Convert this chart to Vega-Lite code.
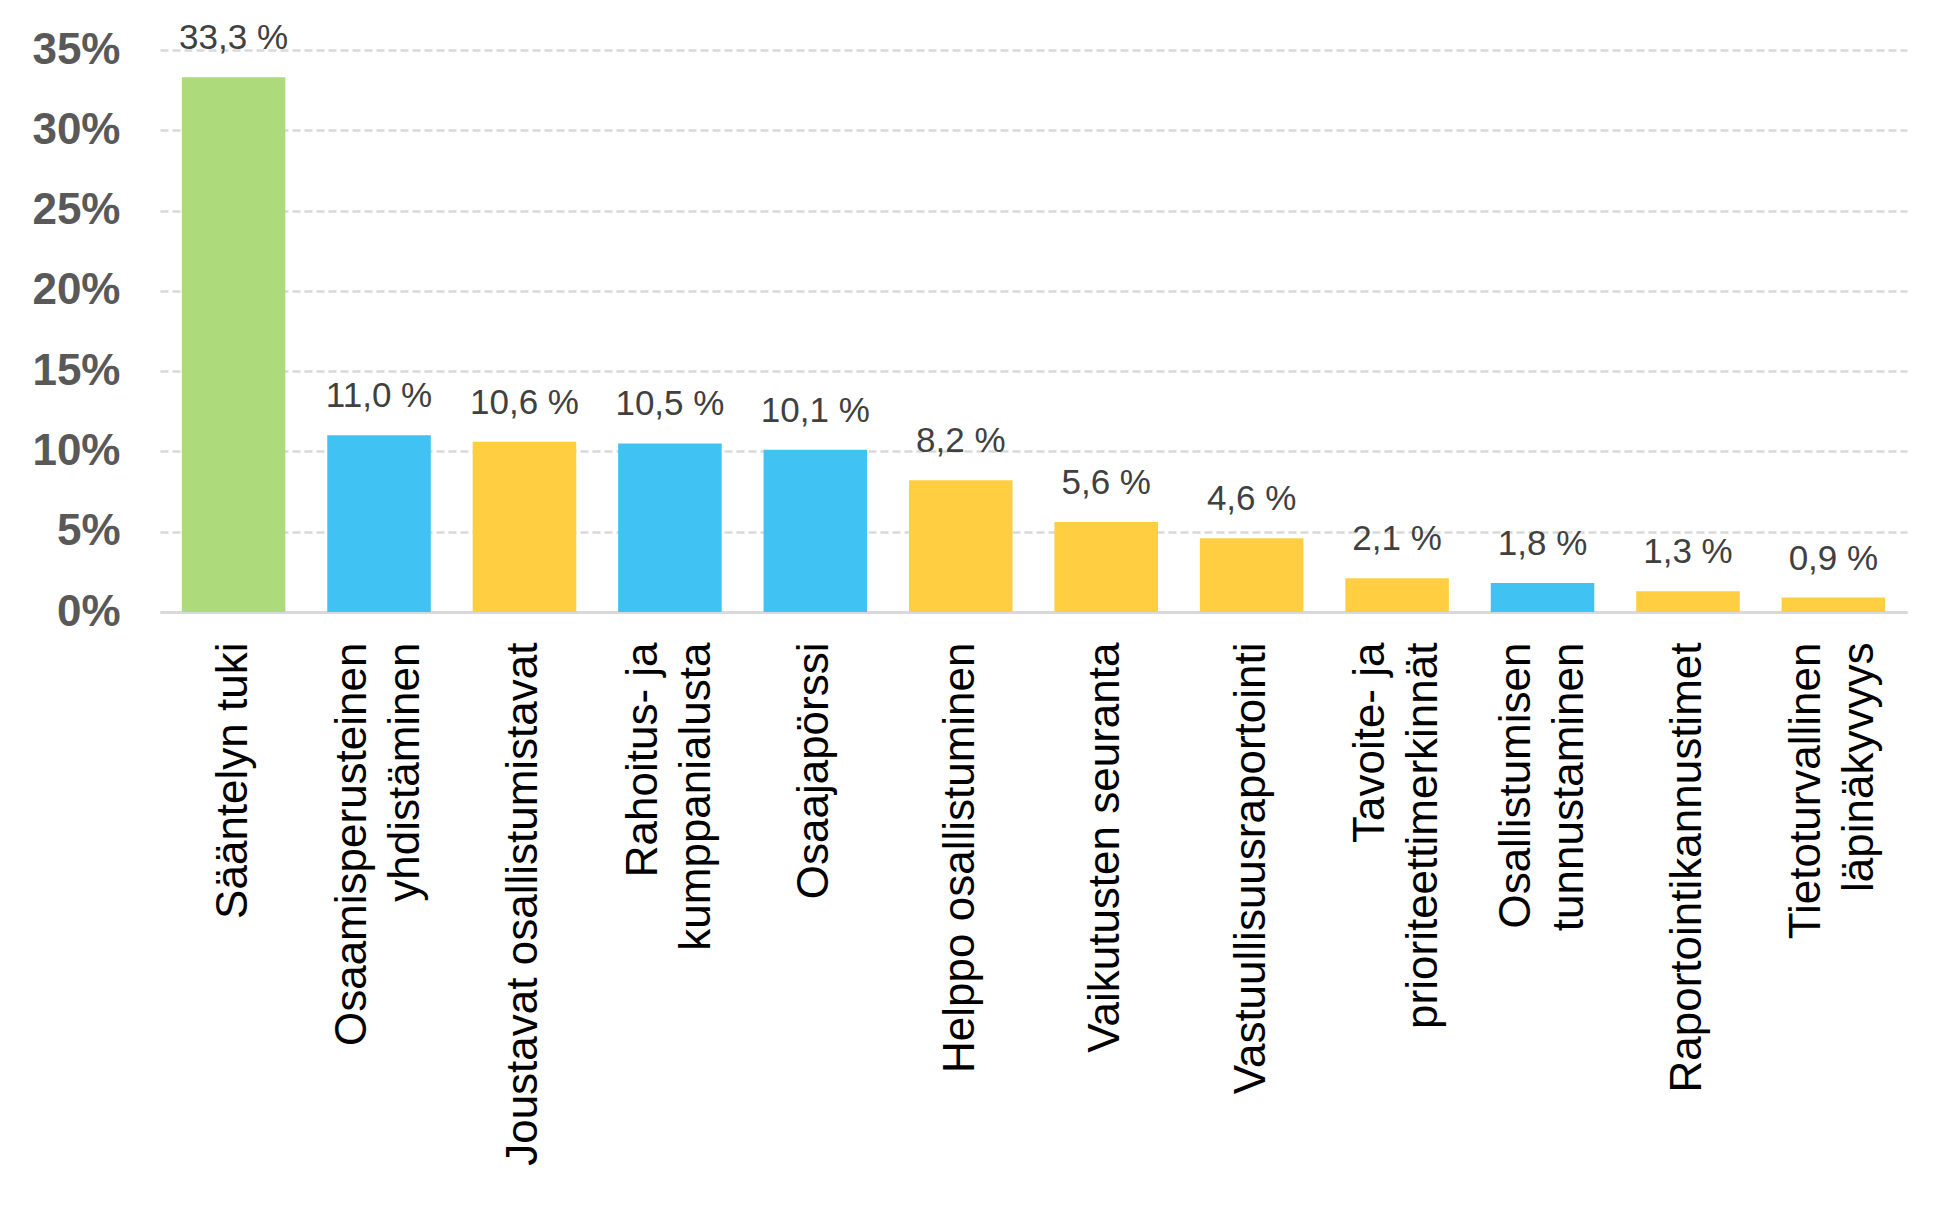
{
  "$schema": "https://vega.github.io/schema/vega-lite/v6.json",
  "width": 1747,
  "height": 562,
  "autosize": {"type": "none"},
  "padding": {"left": 160, "top": 50, "right": 50, "bottom": 604},
  "background": "white",
  "data": {
    "values": [
      {"nimi": "Sääntelyn tuki", "osuus": 33.3, "ryhma": "A"},
      {"nimi": "Osaamisperusteinen|yhdistäminen", "osuus": 11.0, "ryhma": "B"},
      {"nimi": "Joustavat osallistumistavat", "osuus": 10.6, "ryhma": "C"},
      {"nimi": "Rahoitus- ja|kumppanialusta", "osuus": 10.5, "ryhma": "B"},
      {"nimi": "Osaajapörssi", "osuus": 10.1, "ryhma": "B"},
      {"nimi": "Helppo osallistuminen", "osuus": 8.2, "ryhma": "C"},
      {"nimi": "Vaikutusten seuranta", "osuus": 5.6, "ryhma": "C"},
      {"nimi": "Vastuullisuusraportointi", "osuus": 4.6, "ryhma": "C"},
      {"nimi": "Tavoite- ja|prioriteettimerkinnät", "osuus": 2.1, "ryhma": "C"},
      {"nimi": "Osallistumisen|tunnustaminen", "osuus": 1.8, "ryhma": "B"},
      {"nimi": "Raportointikannustimet", "osuus": 1.3, "ryhma": "C"},
      {"nimi": "Tietoturvallinen|läpinäkyvyys", "osuus": 0.9, "ryhma": "C"}
    ]
  },
  "transform": [
    {"calculate": "replace(format(datum.osuus, '.1f'), '.', ',') + ' %'", "as": "teksti"}
  ],
  "encoding": {
    "x": {
      "field": "nimi",
      "type": "nominal",
      "sort": null,
      "scale": {"paddingInner": 0.288, "paddingOuter": 0.15},
      "axis": {
        "title": null,
        "labelAngle": -90,
        "labelExpr": "split(datum.label, '|')",
        "labelOffset": {"condition": {"test": "indexof(datum.label, '|') >= 0", "value": -26}, "value": 0},
        "labelFont": "Liberation Sans",
        "labelFontSize": 44,
        "labelColor": "#000000",
        "labelLineHeight": 53,
        "labelPadding": 30,
        "labelLimit": 1000,
        "ticks": false,
        "domainColor": "#d9d9d9",
        "domainWidth": 3,
        "grid": false
      }
    },
    "y": {
      "field": "osuus",
      "type": "quantitative",
      "scale": {"domain": [0, 35], "nice": false},
      "axis": {
        "title": null,
        "values": [0, 5, 10, 15, 20, 25, 30, 35],
        "labelExpr": "datum.value + '%'",
        "labelFont": "Liberation Sans",
        "labelFontSize": 44,
        "labelFontWeight": "bold",
        "labelColor": "#595959",
        "labelPadding": 40,
        "ticks": false,
        "domain": false,
        "grid": true,
        "gridColor": "#d9d9d9",
        "gridWidth": 2.5,
        "gridDash": [8, 4]
      }
    }
  },
  "layer": [
    {
      "mark": {"type": "bar"},
      "encoding": {
        "color": {
          "field": "ryhma",
          "type": "nominal",
          "scale": {"domain": ["A", "B", "C"], "range": ["#addb7c", "#40c3f2", "#ffcf41"]},
          "legend": null
        }
      }
    },
    {
      "mark": {
        "type": "text",
        "font": "Liberation Sans",
        "fontSize": 35,
        "color": "#404040",
        "baseline": "alphabetic",
        "dy": -28
      },
      "encoding": {"text": {"field": "teksti", "type": "nominal"}}
    }
  ],
  "config": {"view": {"stroke": null}}
}
